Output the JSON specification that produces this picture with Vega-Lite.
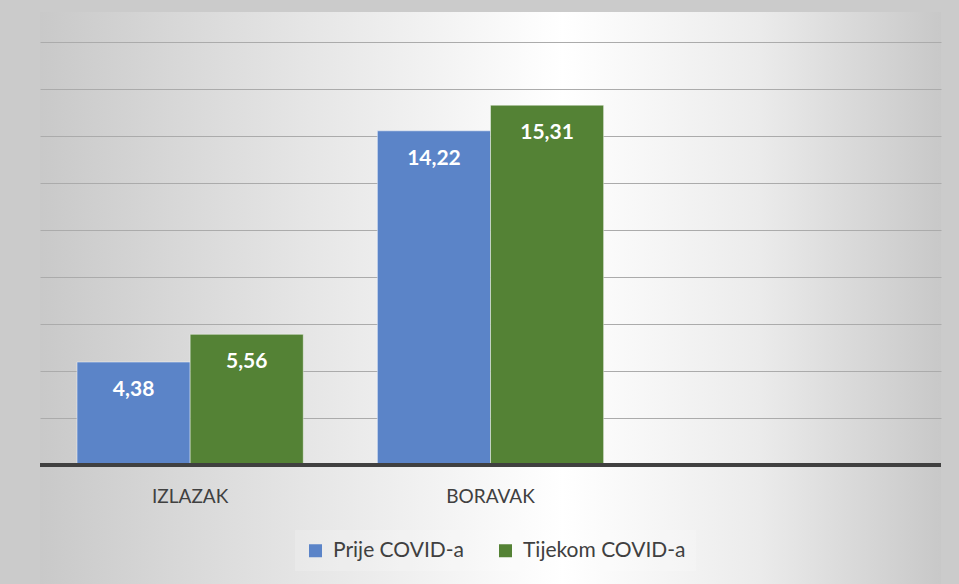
{
  "$schema": "https://vega.github.io/schema/vega-lite/v6.json",
  "width": 901,
  "height": 572,
  "autosize": {"type": "none"},
  "padding": {"left": 40, "top": 12, "right": 18, "bottom": 0},
  "background": "#cbcbcb",
  "config": {
    "locale": {"number": {"decimal": ",", "thousands": ".", "grouping": [3], "currency": ["", " €"]}},
    "font": "Lato",
    "view": {
      "stroke": null,
      "fill": {
        "gradient": "linear",
        "x1": 0, "y1": 0.5, "x2": 1, "y2": 0.5,
        "stops": [
          {"offset": 0, "color": "#c9c9c9"},
          {"offset": 0.3, "color": "#e6e6e6"},
          {"offset": 0.58, "color": "#ffffff"},
          {"offset": 0.8, "color": "#ebebeb"},
          {"offset": 1, "color": "#c8c8c8"}
        ]
      }
    }
  },
  "data": {
    "values": [
      {"kategorija": "IZLAZAK", "razdoblje": "Prije COVID-a", "vrijednost": 4.38},
      {"kategorija": "IZLAZAK", "razdoblje": "Tijekom COVID-a", "vrijednost": 5.56},
      {"kategorija": "BORAVAK", "razdoblje": "Prije COVID-a", "vrijednost": 14.22},
      {"kategorija": "BORAVAK", "razdoblje": "Tijekom COVID-a", "vrijednost": 15.31}
    ]
  },
  "layer": [
    {
      "mark": {"type": "bar", "stroke": "#ffffff", "strokeOpacity": 0.45, "strokeWidth": 1},
      "encoding": {
        "x": {
          "field": "kategorija", "type": "nominal",
          "scale": {"domain": ["IZLAZAK", "BORAVAK", " "], "paddingInner": 0.2467, "paddingOuter": 0.1233},
          "axis": {
            "title": null, "orient": "bottom", "offset": -119, "domain": false, "ticks": false,
            "labelPadding": 22, "labelFontSize": 19, "labelColor": "#404040", "labelAngle": 0, "labelFont": "Lato"
          }
        },
        "xOffset": {"field": "razdoblje", "type": "nominal", "sort": ["Prije COVID-a", "Tijekom COVID-a"]},
        "y": {
          "field": "vrijednost", "type": "quantitative",
          "scale": {"domain": [-5.064, 19.277], "nice": false, "zero": false},
          "axis": {
            "title": null, "values": [2, 4, 6, 8, 10, 12, 14, 16, 18], "labels": false, "ticks": false, "domain": false,
            "grid": true, "gridColor": "#ababab", "gridWidth": 1.2
          }
        },
        "y2": {"datum": 0},
        "color": {
          "field": "razdoblje", "type": "nominal",
          "scale": {"domain": ["Prije COVID-a", "Tijekom COVID-a"], "range": ["#5b84c8", "#548235"]},
          "legend": {
            "title": null, "orient": "none", "direction": "horizontal",
            "legendX": 255, "legendY": 518, "padding": 10,
            "fillColor": "rgba(255,255,255,0.18)",
            "symbolType": "square", "symbolSize": 169, "symbolStrokeWidth": 0,
            "labelFontSize": 21, "labelColor": "#404040", "labelFont": "Lato",
            "labelOffset": 7, "columnPadding": 30, "labelLimit": 300
          }
        }
      }
    },
    {
      "mark": {"type": "text", "color": "#ffffff", "fontWeight": "bold", "fontSize": 21, "font": "Lato", "baseline": "middle", "dy": 28},
      "encoding": {
        "x": {"field": "kategorija", "type": "nominal"},
        "xOffset": {"field": "razdoblje", "type": "nominal", "sort": ["Prije COVID-a", "Tijekom COVID-a"]},
        "y": {"field": "vrijednost", "type": "quantitative"},
        "text": {"field": "vrijednost", "type": "quantitative", "format": ".2f"}
      }
    },
    {
      "mark": {"type": "rule", "color": "#404040", "strokeWidth": 3.5},
      "encoding": {"y": {"datum": 0}}
    }
  ]
}
